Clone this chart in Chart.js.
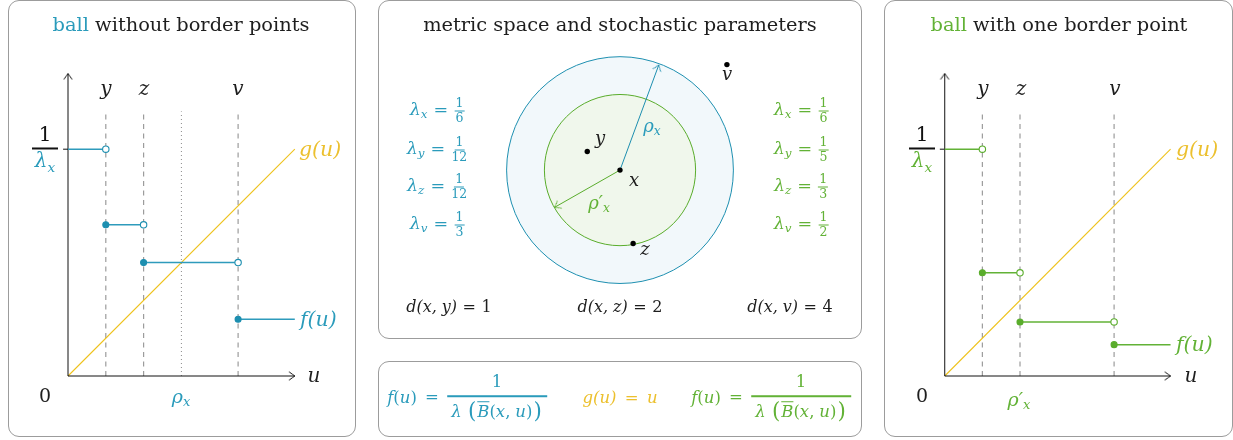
<!DOCTYPE html>
<html><head><meta charset="utf-8">
<script src="https://cdn.jsdelivr.net/npm/chart.js@4.4.1/dist/chart.umd.min.js"></script>
<style>
html,body{margin:0;padding:0;background:#fff;}
#wrap{position:relative;width:1233px;height:440px;overflow:hidden;font-family:'DejaVu Serif',serif;color:#1e1e1e;}
.box{position:absolute;border:1px solid #9c9c9c;border-radius:11px;box-sizing:border-box;}
canvas{position:absolute;left:0;top:0;}
.t{position:absolute;white-space:nowrap;line-height:1;transform:translate(-50%,-50%);}
.l{transform:translate(0,-50%);}
.i{font-style:italic;}
.n{font-style:normal;}
.sb{font-size:0.68em;vertical-align:-0.3em;font-style:italic;}
.eq{font-style:normal;margin:0 0.35em;}
.eqw{font-style:normal;margin:0 0.5em;}
.teal{color:#2a9bbb;}
.green{color:#62b236;}
.yellow{color:#ecc02e;}
.frac{display:inline-flex;flex-direction:column;align-items:center;vertical-align:middle;line-height:1.0;font-style:normal;}
.frac>span:first-child{border-bottom:1.5px solid currentColor;padding:0 1px 1px 1px;}
.bigfrac{display:flex;flex-direction:column;align-items:center;line-height:1.1;}
.bigfrac>span:first-child{border-bottom:2px solid #111;width:26px;text-align:center;padding-bottom:2px;color:#111;}
.ffrac{display:inline-flex;flex-direction:column;align-items:center;vertical-align:middle;line-height:1.2;}
.ffrac>span:first-child{border-bottom:2.2px solid currentColor;align-self:stretch;text-align:center;padding-bottom:3px;}
.ffrac>span:last-child{padding:1px 4px 0 4px;}
.bp{font-size:1.3em;vertical-align:-0.06em;margin:0 1px;}
.cm{margin-right:0.3em;}
</style></head>
<body><div id="wrap">
<div class="box" style="left:8px;top:0;width:348px;height:437px"></div>
<div class="box" style="left:378px;top:0;width:484px;height:339px"></div>
<div class="box" style="left:378px;top:361px;width:484px;height:76px"></div>
<div class="box" style="left:884px;top:0;width:349px;height:437px"></div>

<canvas id="cL" width="1233" height="440"></canvas>
<canvas id="cM" width="1233" height="440"></canvas>
<canvas id="cR" width="1233" height="440"></canvas>

<!-- left panel text -->
<div class="t" style="left:181px;top:25px;font-size:19.4px"><span class="teal">ball</span> without border points</div>
<div class="t i" style="left:106px;top:88px;font-size:20px">y</div>
<div class="t i" style="left:144px;top:88px;font-size:20px">z</div>
<div class="t i" style="left:238px;top:88px;font-size:20px">v</div>
<div class="t i" style="left:314px;top:375px;font-size:20px">u</div>
<div class="t" style="left:45px;top:395px;font-size:19px">0</div>
<div class="t i teal" style="left:181px;top:398px;font-size:19px">ρ<span class="sb">x</span></div>
<div class="t l i yellow" style="left:299px;top:149px;font-size:20.5px">g(u)</div>
<div class="t l i teal" style="left:300px;top:319px;font-size:20.5px">f(u)</div>
<div class="t" style="left:45px;top:149px;font-size:20px"><div class="bigfrac"><span>1</span><span class="i teal">λ<span class="sb">x</span></span></div></div>

<!-- middle panel text -->
<div class="t" style="left:620px;top:25px;font-size:19.4px">metric space and stochastic parameters</div>
<div class="t i teal" style="left:437px;top:110px;font-size:17.5px">λ<span class="sb">x</span><span class="eq">=</span><span class="frac" style="font-size:12.5px"><span>1</span><span>6</span></span></div>
<div class="t i teal" style="left:437px;top:149px;font-size:17.5px">λ<span class="sb">y</span><span class="eq">=</span><span class="frac" style="font-size:12.5px"><span>1</span><span>12</span></span></div>
<div class="t i teal" style="left:437px;top:186px;font-size:17.5px">λ<span class="sb">z</span><span class="eq">=</span><span class="frac" style="font-size:12.5px"><span>1</span><span>12</span></span></div>
<div class="t i teal" style="left:437px;top:224px;font-size:17.5px">λ<span class="sb">v</span><span class="eq">=</span><span class="frac" style="font-size:12.5px"><span>1</span><span>3</span></span></div>
<div class="t i green" style="left:801px;top:110px;font-size:17.5px">λ<span class="sb">x</span><span class="eq">=</span><span class="frac" style="font-size:12.5px"><span>1</span><span>6</span></span></div>
<div class="t i green" style="left:801px;top:149px;font-size:17.5px">λ<span class="sb">y</span><span class="eq">=</span><span class="frac" style="font-size:12.5px"><span>1</span><span>5</span></span></div>
<div class="t i green" style="left:801px;top:186px;font-size:17.5px">λ<span class="sb">z</span><span class="eq">=</span><span class="frac" style="font-size:12.5px"><span>1</span><span>3</span></span></div>
<div class="t i green" style="left:801px;top:224px;font-size:17.5px">λ<span class="sb">v</span><span class="eq">=</span><span class="frac" style="font-size:12.5px"><span>1</span><span>2</span></span></div>
<div class="t i" style="left:449px;top:307px;font-size:16px">d(x,<span class="cm"></span>y)<span class="eq">=</span><span class="n">1</span></div>
<div class="t i" style="left:620px;top:307px;font-size:16px">d(x,<span class="cm"></span>z)<span class="eq">=</span><span class="n">2</span></div>
<div class="t i" style="left:790px;top:307px;font-size:16px">d(x,<span class="cm"></span>v)<span class="eq">=</span><span class="n">4</span></div>
<div class="t i" style="left:600px;top:138px;font-size:18px">y</div>
<div class="t i" style="left:634px;top:180px;font-size:18px">x</div>
<div class="t i" style="left:645px;top:249px;font-size:18px">z</div>
<div class="t i" style="left:727px;top:74px;font-size:18px">v</div>
<div class="t i teal" style="left:652px;top:127px;font-size:18px">ρ<span class="sb">x</span></div>
<div class="t i green" style="left:599px;top:204px;font-size:18px">ρ′<span class="sb">x</span></div>

<!-- bottom formula box -->
<div class="t teal" style="left:467px;top:398px;font-size:16.5px"><span class="i">f</span>(<span class="i">u</span>)<span class="eqw">=</span><span class="ffrac"><span>1</span><span><span class="i">λ</span>&nbsp;<span class="bp">(</span><span class="i" style="text-decoration:overline">B</span>(<span class="i">x</span>,<span class="cm"></span><span class="i">u</span>)<span class="bp">)</span></span></span></div>
<div class="t yellow i" style="left:620px;top:398px;font-size:16.5px">g(u)<span class="eqw">=</span>u</div>
<div class="t green" style="left:771px;top:398px;font-size:16.5px"><span class="i">f</span>(<span class="i">u</span>)<span class="eqw">=</span><span class="ffrac"><span>1</span><span><span class="i">λ</span>&nbsp;<span class="bp">(</span><span class="i" style="text-decoration:overline">B</span>(<span class="i">x</span>,<span class="cm"></span><span class="i">u</span>)<span class="bp">)</span></span></span></div>

<!-- right panel text -->
<div class="t" style="left:1059px;top:25px;font-size:19.4px"><span class="green">ball</span> with one border point</div>
<div class="t i" style="left:983px;top:88px;font-size:20px">y</div>
<div class="t i" style="left:1021px;top:88px;font-size:20px">z</div>
<div class="t i" style="left:1115px;top:88px;font-size:20px">v</div>
<div class="t i" style="left:1191px;top:375px;font-size:20px">u</div>
<div class="t" style="left:922px;top:395px;font-size:19px">0</div>
<div class="t i green" style="left:1019px;top:401px;font-size:19px">ρ′<span class="sb">x</span></div>
<div class="t l i yellow" style="left:1176px;top:149px;font-size:20.5px">g(u)</div>
<div class="t l i green" style="left:1176px;top:344px;font-size:20.5px">f(u)</div>
<div class="t" style="left:922px;top:149px;font-size:20px"><div class="bigfrac"><span>1</span><span class="i green">λ<span class="sb">x</span></span></div></div>
</div>

<script>
// ---------- data ----------
const pointNames    = ['y', 'z', 'v'];
const pointDistance = [1, 2, 4];        // d(x, .)
const pointPlotU    = [1, 2, 4.5];      // where each point is drawn on the u axis
const lambdaBlue    = [1/6, 1/12, 1/12, 1/3];
const lambdaGreen   = [1/6, 1/5, 1/3, 1/2];
const stepBreaks    = [0, 1, 2, 4.5, 6];           // u where f jumps
const fBlue         = [6, 4, 3, 1.5];              // f(u)
const fGreen        = [6, 2.73, 1.43, 0.83];       // f(u)
const gLine         = [[0, 0], [6, 6]];            // g(u) = u
const rhoBlue       = 3;                           // rho_x
const rhoGreen      = 2;                           // rho'_x
const dashTop       = 7;
const axisU         = 6;
const axisF         = 8;
const metricNames   = ['x', 'y', 'z', 'v'];
const metricDist    = [0, 1, 2, 4];
const metricAngle   = [0, 150, -80, 45];           // degrees
const rhoArrowAngle = [70, 210];                   // rho_x, rho'_x

// ---------- style ----------
const TEAL = '#1d8fb0', TEAL_SEG = '#2e9bbc', GREEN = '#5aad2c', GREEN_SEG = '#62b236', YELLOW = '#eec21c', GRAY = '#9c9c9c';
const W = 1233, H = 440, K = 37.8;

function chevron(color, lw, len, half) {
  const c = document.createElement('canvas'); c.width = 18; c.height = 18;
  const g = c.getContext('2d');
  g.strokeStyle = color; g.lineWidth = lw; g.lineCap = 'round'; g.lineJoin = 'round';
  g.beginPath();
  g.moveTo(9 - len, 9 - half); g.quadraticCurveTo(9 - len * 0.35, 9 - half * 0.3, 9, 9);
  g.quadraticCurveTo(9 - len * 0.35, 9 + half * 0.3, 9 - len, 9 + half);
  g.stroke();
  return c;
}
const arrowBlack = chevron('#111', 1, 5.5, 4);
const arrowTeal = chevron(TEAL, 1, 5.5, 4);
const arrowGreen = chevron(GREEN, 1, 5.5, 4);

function frame(ox, oy, xmin, xmax, ymin, ymax) {
  return {
    padding: { left: ox + xmin * K, right: W - (ox + xmax * K), top: oy - ymax * K, bottom: H - (oy - ymin * K) },
    scales: {
      x: { type: 'linear', display: false, min: xmin, max: xmax },
      y: { type: 'linear', display: false, min: ymin, max: ymax }
    }
  };
}

function line(pts, color, width, extra) {
  return Object.assign({
    data: pts.map(p => ({ x: p[0], y: p[1] })), showLine: true, borderColor: color, borderWidth: width,
    pointRadius: 0, clip: false, fill: false, tension: 0
  }, extra || {});
}

function stepChart(ox, oy, fvals, color, segColor) {
  const fr = frame(ox, oy, -1.6, 7.5, -0.8, 8.4);
  const ds = [];
  ds.push(line([[0, 0], [axisU, 0]], '#111', 1, { pointStyle: arrowBlack, pointRadius: [0, 5], pointRotation: 0, order: 3 }));
  ds.push(line([[0, 0], [0, axisF]], '#111', 1, { pointStyle: arrowBlack, pointRadius: [0, 5], pointRotation: -90, order: 3 }));
  ds.push(line([[-0.13, fvals[0]], [0, fvals[0]]], '#111', 1, { order: 3 }));
  pointPlotU.forEach(u => ds.push(line([[u, 0], [u, dashTop]], GRAY, 1.2, { borderDash: [5, 4.5], order: 9 })));
  ds.push(line(gLine, YELLOW, 1.1, { order: 5 }));
  fvals.forEach((f, i) => {
    const last = i === fvals.length - 1;
    ds.push(line([[stepBreaks[i], f], [stepBreaks[i + 1], f]], segColor, 1.5, {
      pointRadius: [i === 0 ? 0 : 3, last ? 0 : 3.2],
      pointBackgroundColor: [color, '#ffffff'], pointBorderColor: color, pointBorderWidth: 1.1, order: 1
    }));
  });
  return { ds, fr };
}

function build(canvasId, spec) {
  new Chart(document.getElementById(canvasId), {
    type: 'scatter',
    data: { datasets: spec.ds },
    options: {
      responsive: false, animation: false, events: [],
      layout: { padding: spec.fr.padding },
      scales: spec.fr.scales,
      plugins: { legend: { display: false }, tooltip: { enabled: false }, title: { display: false } }
    }
  });
}

const left = stepChart(68, 376, fBlue, TEAL, TEAL_SEG);
left.ds.push(line([[rhoBlue, 0], [rhoBlue, dashTop]], '#8a8a8a', 1, { borderDash: [1, 3], order: 9 }));
build('cL', left);

const right = stepChart(945, 376, fGreen, GREEN, GREEN_SEG);
build('cR', right);

function pxRadius(chart, r) {
  const s = chart.scales.x;
  return Math.abs(s.getPixelForValue(r) - s.getPixelForValue(0));
}
const rad = d => d * Math.PI / 180;
const mid = { fr: frame(620, 168, -5.5, 5.5, -4.1, 4.4), ds: [] };
mid.ds.push({ data: [{ x: 0, y: 0 }], pointRadius: c => pxRadius(c.chart, rhoBlue), pointBackgroundColor: '#f2f8fb',
  pointBorderColor: TEAL, pointBorderWidth: 1, order: 10, clip: false });
mid.ds.push({ data: [{ x: 0, y: 0 }], pointRadius: c => pxRadius(c.chart, rhoGreen), pointBackgroundColor: '#f0f7ec',
  pointBorderColor: GREEN, pointBorderWidth: 1, order: 9, clip: false });
[[rhoBlue, rhoArrowAngle[0], TEAL, arrowTeal], [rhoGreen, rhoArrowAngle[1], GREEN, arrowGreen]].forEach(([r, a, col, img]) => {
  mid.ds.push(line([[0, 0], [r * Math.cos(rad(a)), r * Math.sin(rad(a))]], col, 1, {
    pointStyle: img, pointRadius: [0, 5], pointRotation: -a, order: 4 }));
});
mid.ds.push({
  data: metricDist.map((d, i) => ({ x: d * Math.cos(rad(metricAngle[i])), y: d * Math.sin(rad(metricAngle[i])) })),
  pointRadius: 2.7, pointBackgroundColor: '#000', pointBorderColor: '#000', pointBorderWidth: 0, order: 1, clip: false
});
build('cM', mid);
</script>
</body></html>
